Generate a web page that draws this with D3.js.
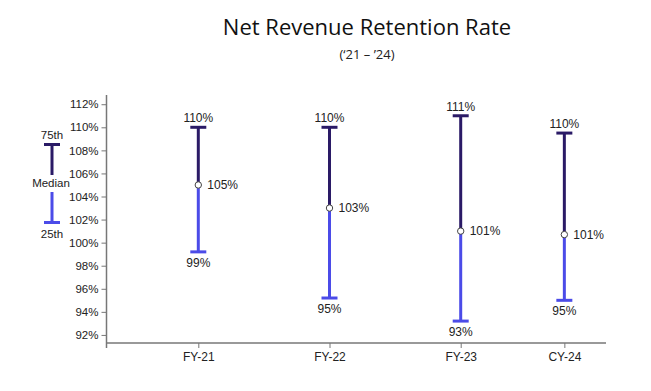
<!DOCTYPE html>
<html>
<head>
<meta charset="utf-8">
<script src="https://cdn.jsdelivr.net/npm/d3@7"></script>
<style>
  body { margin: 0; background: #fff; }
  text { font-family: "Liberation Sans", Arial, sans-serif; fill: #222; }
  .title { font-family: "Open Sans", "Noto Sans", sans-serif; font-size: 22px; fill: #111; }
  .subtitle { font-family: "Open Sans", "Noto Sans", sans-serif; font-size: 13px; fill: #222; }
</style>
</head>
<body>
<svg width="651" height="391"></svg>
<script>
// ---- data ----
let categories = ["FY-21", "FY-22", "FY-23", "CY-24"];
let p75 = [110, 110, 111, 109.5];
let median = [105, 103, 101, 100.7];
let p25 = [99.2, 95.2, 93.2, 95];
let p75Labels = ["110%", "110%", "111%", "110%"];
let medianLabels = ["105%", "103%", "101%", "101%"];
let p25Labels = ["99%", "95%", "93%", "95%"];
let yTicks = [92, 94, 96, 98, 100, 102, 104, 106, 108, 110, 112];
// slot of each category along the x axis (CY-24 sits closer to FY-23)
let slots = [0, 1, 2, 2.79];

// ---- layout ----
let svg = d3.select("svg"),
    dark = "#2a1a66",
    blue = "#4b4be8",
    axisColor = "#777",
    capW = 16;

let x = d3.scaleLinear().domain([0, 1]).range([198.3, 329.5]);
let y = d3.scaleLinear().domain([91.3, 112.8]).range([343, 95]);

let data = categories.map(function(c, i) {
  return {cat: c, slot: slots[i], hi: p75[i], mid: median[i], lo: p25[i],
          hiL: p75Labels[i], midL: medianLabels[i], loL: p25Labels[i]};
});

// title
svg.append("text").attr("class", "title")
  .attr("x", 367).attr("y", 35).attr("text-anchor", "middle")
  .text("Net Revenue Retention Rate");
svg.append("text").attr("class", "subtitle")
  .attr("x", 367).attr("y", 59).attr("text-anchor", "middle")
  .text("(\u201821 \u2013 \u201924)");

// y axis
let yAxis = svg.append("g")
  .attr("transform", "translate(106.5,0)")
  .call(d3.axisLeft(y).tickValues(yTicks).tickSize(5).tickPadding(3)
    .tickFormat(function(d) { return d + "%"; }));
yAxis.select(".domain").remove();
yAxis.append("line").attr("x1", 0).attr("x2", 0).attr("y1", 95).attr("y2", 348)
  .attr("stroke", axisColor).attr("stroke-width", 1.5);
yAxis.selectAll(".tick line").attr("stroke", axisColor);
yAxis.selectAll(".tick text").attr("font-size", "11.5px").attr("fill", "#222");

// x axis
let xAxis = svg.append("g")
  .attr("transform", "translate(0,343)")
  .call(d3.axisBottom(x).tickValues(slots).tickSize(5).tickPadding(4)
    .tickFormat(function(d, i) { return categories[i]; }));
xAxis.select(".domain").remove();
xAxis.append("line").attr("x1", 106).attr("x2", 606).attr("y1", 0).attr("y2", 0)
  .attr("stroke", axisColor).attr("stroke-width", 1.5);
xAxis.selectAll(".tick line").attr("stroke", axisColor);
xAxis.selectAll(".tick text").attr("font-size", "12px").attr("fill", "#222");

// ranges
let g = svg.append("g");
let bars = g.selectAll(".range").data(data).enter().append("g").attr("class", "range");

bars.append("line")
  .attr("x1", function(d) { return x(d.slot); }).attr("x2", function(d) { return x(d.slot); })
  .attr("y1", function(d) { return y(d.hi); }).attr("y2", function(d) { return y(d.mid); })
  .attr("stroke", dark).attr("stroke-width", 3);
bars.append("line")
  .attr("x1", function(d) { return x(d.slot); }).attr("x2", function(d) { return x(d.slot); })
  .attr("y1", function(d) { return y(d.mid); }).attr("y2", function(d) { return y(d.lo); })
  .attr("stroke", blue).attr("stroke-width", 3);
bars.append("line")
  .attr("x1", function(d) { return x(d.slot) - capW / 2; }).attr("x2", function(d) { return x(d.slot) + capW / 2; })
  .attr("y1", function(d) { return y(d.hi); }).attr("y2", function(d) { return y(d.hi); })
  .attr("stroke", dark).attr("stroke-width", 3);
bars.append("line")
  .attr("x1", function(d) { return x(d.slot) - capW / 2; }).attr("x2", function(d) { return x(d.slot) + capW / 2; })
  .attr("y1", function(d) { return y(d.lo); }).attr("y2", function(d) { return y(d.lo); })
  .attr("stroke", blue).attr("stroke-width", 3);
bars.append("circle")
  .attr("cx", function(d) { return x(d.slot); }).attr("cy", function(d) { return y(d.mid); })
  .attr("r", 3.2).attr("fill", "#fff").attr("stroke", "#444").attr("stroke-width", 1);

bars.append("text")
  .attr("x", function(d) { return x(d.slot); }).attr("y", function(d) { return y(d.hi) - 5; })
  .attr("text-anchor", "middle").attr("font-size", "12px")
  .text(function(d) { return d.hiL; });
bars.append("text")
  .attr("x", function(d) { return x(d.slot); }).attr("y", function(d) { return y(d.lo) + 15; })
  .attr("text-anchor", "middle").attr("font-size", "12px")
  .text(function(d) { return d.loL; });
bars.append("text")
  .attr("x", function(d) { return x(d.slot) + 9; }).attr("y", function(d) { return y(d.mid) + 4; })
  .attr("font-size", "12px")
  .text(function(d) { return d.midL; });

// legend
let lg = svg.append("g").attr("transform", "translate(52,0)");
lg.append("line").attr("x1", 0).attr("x2", 0).attr("y1", 144.5).attr("y2", 175)
  .attr("stroke", dark).attr("stroke-width", 3);
lg.append("line").attr("x1", -capW / 2).attr("x2", capW / 2).attr("y1", 144.5).attr("y2", 144.5)
  .attr("stroke", dark).attr("stroke-width", 3);
lg.append("line").attr("x1", 0).attr("x2", 0).attr("y1", 192).attr("y2", 222.5)
  .attr("stroke", blue).attr("stroke-width", 3);
lg.append("line").attr("x1", -capW / 2).attr("x2", capW / 2).attr("y1", 222.5).attr("y2", 222.5)
  .attr("stroke", blue).attr("stroke-width", 3);
lg.append("text").attr("x", 0).attr("y", 139).attr("text-anchor", "middle").attr("font-size", "11.5px").text("75th");
lg.append("text").attr("x", -1).attr("y", 187).attr("text-anchor", "middle").attr("font-size", "11.5px").text("Median");
lg.append("text").attr("x", 0).attr("y", 238).attr("text-anchor", "middle").attr("font-size", "11.5px").text("25th");
</script>
</body>
</html>
